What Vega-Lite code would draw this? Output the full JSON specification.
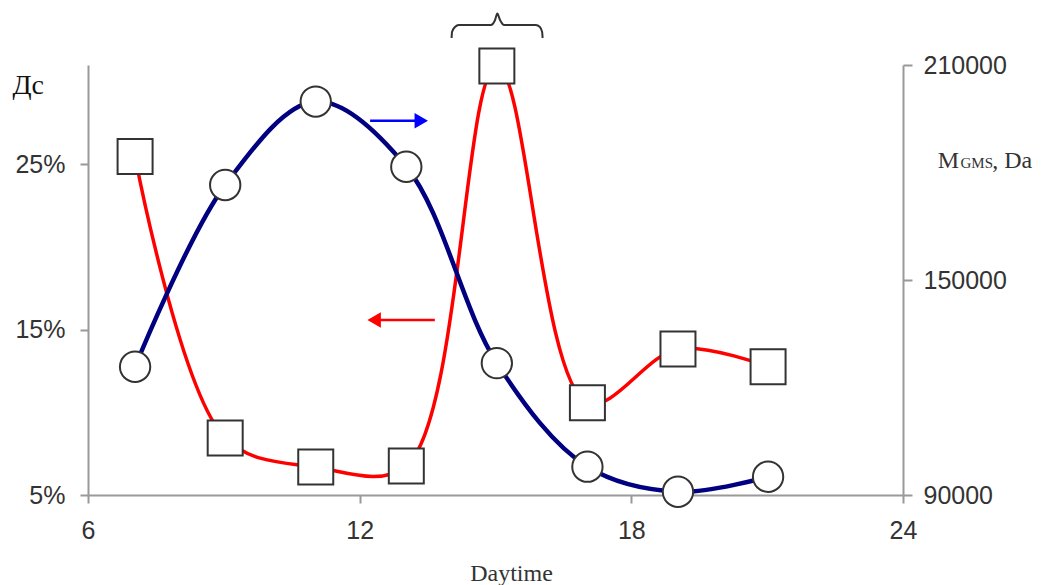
{
  "$schema": "https://vega.github.io/schema/vega-lite/v6.json",
  "width": 815,
  "height": 430,
  "autosize": {"type": "none"},
  "padding": {"left": 88, "top": 65, "right": 144, "bottom": 90},
  "background": "white",
  "config": {
    "view": {"stroke": null},
    "axis": {
      "grid": false,
      "domainColor": "#999999",
      "domainWidth": 2,
      "tickColor": "#999999",
      "tickWidth": 2,
      "labelFont": "Liberation Sans",
      "labelFontSize": 25,
      "labelColor": "#333333",
      "labelFlush": false
    }
  },
  "resolve": {"scale": {"y": "independent"}, "axis": {"y": "independent"}},
  "layer": [
    {
      "data": {"values": [
        {"h": 7.04, "v": 0.2547}, {"h": 9.03, "v": 0.0845}, {"h": 11.03, "v": 0.0669},
        {"h": 13.03, "v": 0.0675}, {"h": 15.03, "v": 0.3094}, {"h": 17.03, "v": 0.1058},
        {"h": 19.03, "v": 0.1383}, {"h": 21.02, "v": 0.1276}
      ]},
      "mark": {"type": "line", "color": "#ff0000", "strokeWidth": 3.5, "interpolate": "catmull-rom"},
      "encoding": {
        "x": {"field": "h", "type": "quantitative", "scale": {"domain": [6, 24], "nice": false, "zero": false},
          "axis": {"values": [6, 12, 18, 24], "tickSize": 8, "labelPadding": 15, "title": "Daytime",
            "titleFont": "Liberation Serif", "titleFontSize": 24, "titleFontWeight": "normal", "titleColor": "#333333",
            "titleX": 423, "titleY": 85, "titleBaseline": "alphabetic"}},
        "y": {"field": "v", "type": "quantitative", "scale": {"domain": [0.05, 0.31], "nice": false, "zero": false},
          "axis": {"orient": "left", "values": [0.05, 0.15, 0.25], "format": ".0%", "tickSize": 8, "labelPadding": 15,
            "title": "Дс", "titleAngle": 0, "titleAlign": "left", "titleBaseline": "alphabetic", "titleX": -76, "titleY": 28,
            "titleFont": "Liberation Serif", "titleFontSize": 28, "titleFontWeight": "normal", "titleColor": "#111111"}}
      }
    },
    {
      "data": {"values": [
        {"h": 7.04, "v": 0.2547}, {"h": 9.03, "v": 0.0845}, {"h": 11.03, "v": 0.0669},
        {"h": 13.03, "v": 0.0675}, {"h": 15.03, "v": 0.3094}, {"h": 17.03, "v": 0.1058},
        {"h": 19.03, "v": 0.1383}, {"h": 21.02, "v": 0.1276}
      ]},
      "mark": {"type": "point", "shape": "square", "filled": true, "fill": "white", "stroke": "#333333", "strokeWidth": 2, "size": 1225, "opacity": 1},
      "encoding": {
        "x": {"field": "h", "type": "quantitative", "scale": {"domain": [6, 24], "nice": false, "zero": false}},
        "y": {"field": "v", "type": "quantitative", "scale": {"domain": [0.05, 0.31], "nice": false, "zero": false}, "axis": null}
      }
    },
    {
      "data": {"values": [
        {"h": 7.04, "m": 125800}, {"h": 9.03, "m": 176500}, {"h": 11.03, "m": 199800},
        {"h": 13.03, "m": 181600}, {"h": 15.03, "m": 126800}, {"h": 17.03, "m": 97900},
        {"h": 19.03, "m": 90900}, {"h": 21.02, "m": 95100}
      ]},
      "mark": {"type": "line", "color": "#000080", "strokeWidth": 4.5, "interpolate": "catmull-rom"},
      "encoding": {
        "x": {"field": "h", "type": "quantitative", "scale": {"domain": [6, 24], "nice": false, "zero": false}},
        "y": {"field": "m", "type": "quantitative", "scale": {"domain": [90000, 210000], "nice": false, "zero": false},
          "axis": {"orient": "right", "values": [90000, 150000, 210000], "format": "d", "tickSize": 9, "labelPadding": 11, "title": null}}
      }
    },
    {
      "data": {"values": [
        {"h": 7.04, "m": 125800}, {"h": 9.03, "m": 176500}, {"h": 11.03, "m": 199800},
        {"h": 13.03, "m": 181600}, {"h": 15.03, "m": 126800}, {"h": 17.03, "m": 97900},
        {"h": 19.03, "m": 90900}, {"h": 21.02, "m": 95100}
      ]},
      "mark": {"type": "point", "shape": "circle", "filled": true, "fill": "white", "stroke": "#333333", "strokeWidth": 2, "size": 920, "opacity": 1},
      "encoding": {
        "x": {"field": "h", "type": "quantitative", "scale": {"domain": [6, 24], "nice": false, "zero": false}},
        "y": {"field": "m", "type": "quantitative", "scale": {"domain": [90000, 210000], "nice": false, "zero": false}, "axis": null}
      }
    },
    {
      "data": {"values": [
        {"h": 12.23, "h2": 13.24, "v": 0.2763, "c": "blue"},
        {"h": 12.45, "h2": 13.66, "v": 0.1558, "c": "red"}
      ]},
      "mark": {"type": "rule", "strokeWidth": 2.5},
      "encoding": {
        "x": {"field": "h", "type": "quantitative", "scale": {"domain": [6, 24], "nice": false, "zero": false}},
        "x2": {"field": "h2"},
        "y": {"field": "v", "type": "quantitative", "scale": {"domain": [0.05, 0.31], "nice": false, "zero": false}, "axis": null},
        "color": {"field": "c", "type": "nominal", "scale": {"domain": ["blue", "red"], "range": ["#0000ff", "#ff0000"]}, "legend": null}
      }
    },
    {
      "data": {"values": [{"h": 13.36, "v": 0.2763}]},
      "mark": {"type": "point", "shape": "triangle-right", "filled": true, "color": "#0000ff", "size": 240, "opacity": 1},
      "encoding": {
        "x": {"field": "h", "type": "quantitative", "scale": {"domain": [6, 24], "nice": false, "zero": false}},
        "y": {"field": "v", "type": "quantitative", "scale": {"domain": [0.05, 0.31], "nice": false, "zero": false}, "axis": null}
      }
    },
    {
      "data": {"values": [{"h": 12.32, "v": 0.1558}]},
      "mark": {"type": "point", "shape": "triangle-left", "filled": true, "color": "#ff0000", "size": 240, "opacity": 1},
      "encoding": {
        "x": {"field": "h", "type": "quantitative", "scale": {"domain": [6, 24], "nice": false, "zero": false}},
        "y": {"field": "v", "type": "quantitative", "scale": {"domain": [0.05, 0.31], "nice": false, "zero": false}, "axis": null}
      }
    },
    {
      "data": {"values": [
        {"h": 14.03, "v": 0.3263}, {"h": 14.04, "v": 0.3299}, {"h": 14.105, "v": 0.3330}, {"h": 14.19, "v": 0.3342},
        {"h": 14.90, "v": 0.3342}, {"h": 14.99, "v": 0.3372}, {"h": 15.04, "v": 0.3411}, {"h": 15.10, "v": 0.3372},
        {"h": 15.19, "v": 0.3342}, {"h": 15.89, "v": 0.3342}, {"h": 15.98, "v": 0.3330}, {"h": 16.03, "v": 0.3299},
        {"h": 16.04, "v": 0.3263}
      ]},
      "mark": {"type": "line", "color": "#333333", "strokeWidth": 2, "interpolate": "monotone"},
      "encoding": {
        "x": {"field": "h", "type": "quantitative", "scale": {"domain": [6, 24], "nice": false, "zero": false}},
        "y": {"field": "v", "type": "quantitative", "scale": {"domain": [0.05, 0.31], "nice": false, "zero": false}, "axis": null}
      }
    },
    {
      "data": {"values": [{"h": 24.77, "v": 0.2477, "t": "M"}, {"h": 25.97, "v": 0.2477, "t": ", Da"}]},
      "mark": {"type": "text", "font": "Liberation Serif", "fontSize": 24, "align": "left", "baseline": "alphabetic", "color": "#333333"},
      "encoding": {
        "x": {"field": "h", "type": "quantitative", "scale": {"domain": [6, 24], "nice": false, "zero": false}},
        "y": {"field": "v", "type": "quantitative", "scale": {"domain": [0.05, 0.31], "nice": false, "zero": false}, "axis": null},
        "text": {"field": "t"}
      }
    },
    {
      "data": {"values": [{"h": 25.27, "v": 0.2477, "t": "GMS"}]},
      "mark": {"type": "text", "font": "Liberation Serif", "fontSize": 15, "align": "left", "baseline": "alphabetic", "color": "#333333"},
      "encoding": {
        "x": {"field": "h", "type": "quantitative", "scale": {"domain": [6, 24], "nice": false, "zero": false}},
        "y": {"field": "v", "type": "quantitative", "scale": {"domain": [0.05, 0.31], "nice": false, "zero": false}, "axis": null},
        "text": {"field": "t"}
      }
    }
  ]
}
